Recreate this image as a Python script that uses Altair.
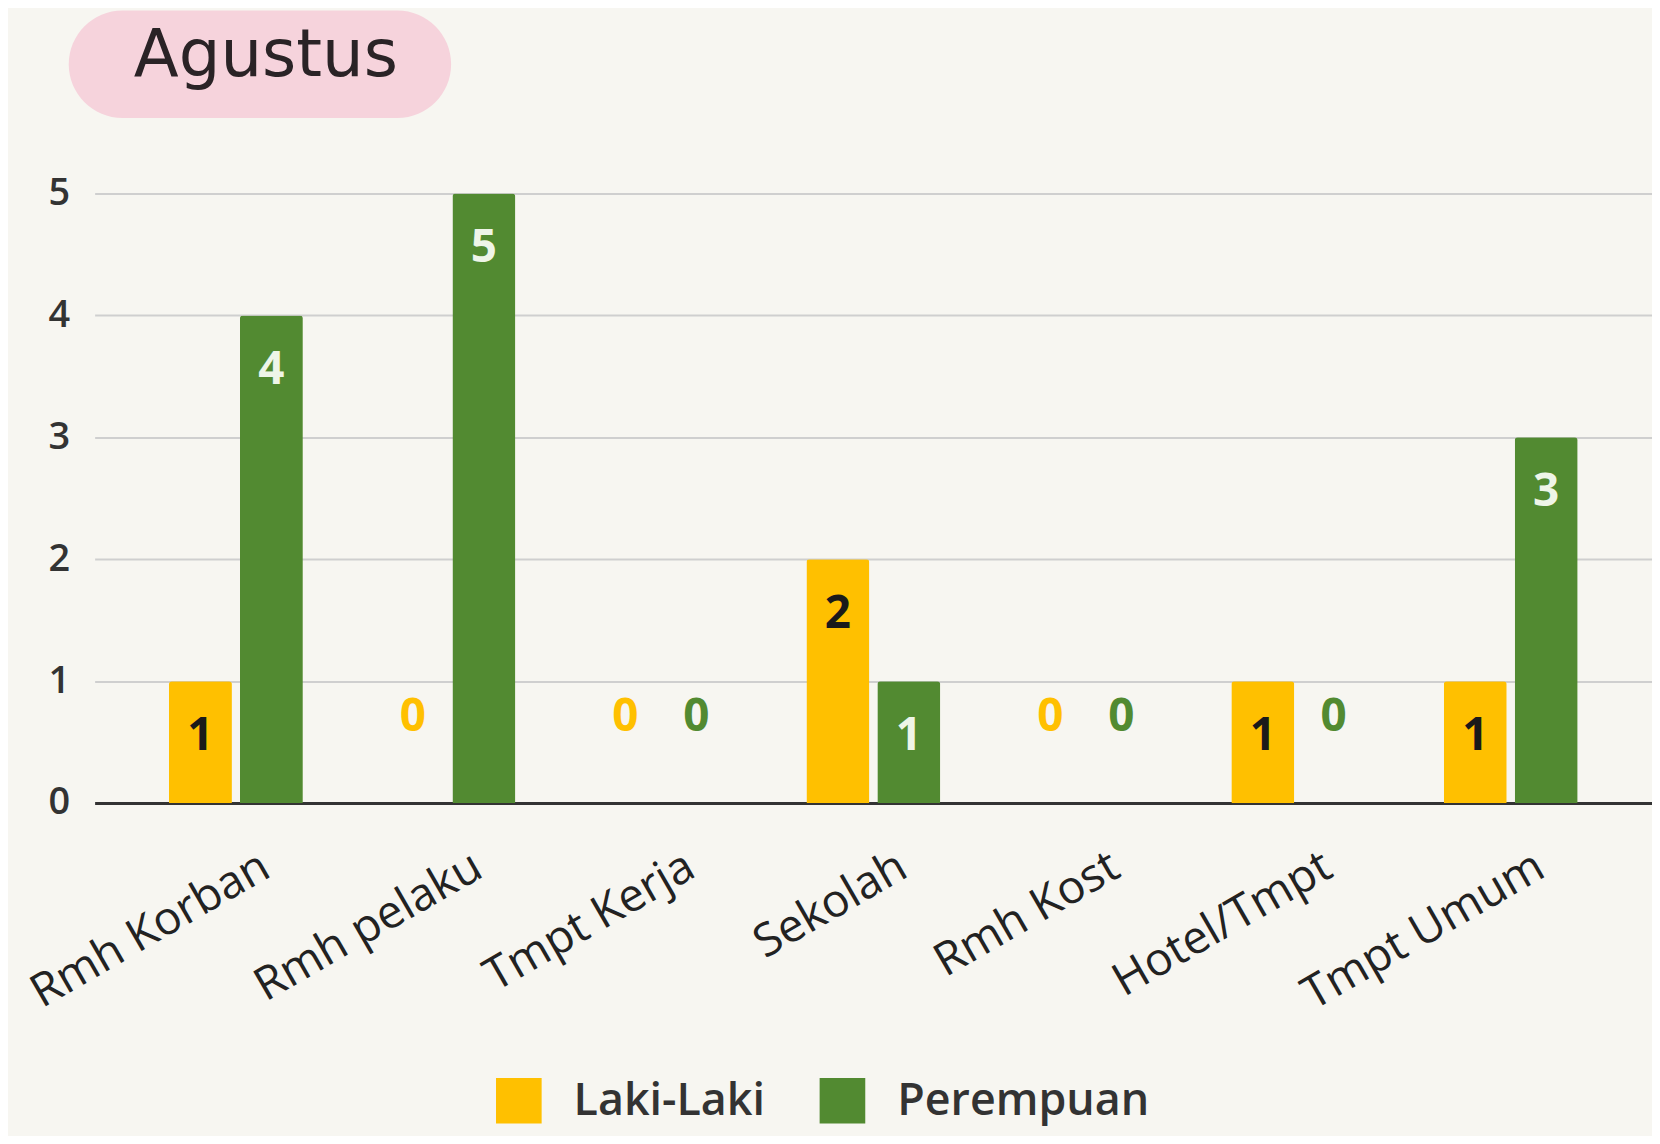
import altair as alt
import pandas as pd

title_text = ["Agustus"]
categories = ["Rmh Korban", "Rmh pelaku", "Tmpt Kerja", "Sekolah", "Rmh Kost", "Hotel/Tmpt", "Tmpt Umum"]
series_names = ["Laki-Laki", "Perempuan"]
laki = [1, 0, 0, 2, 0, 1, 1]
perempuan = [4, 5, 0, 1, 0, 0, 3]
y_ticks = [0, 1, 2, 3, 4, 5]
colors = ["#FFC000", "#528A31"]

rows = []
for i, c in enumerate(categories):
    rows.append({"lokasi": c, "jenis": series_names[0], "nilai": laki[i]})
    rows.append({"lokasi": c, "jenis": series_names[1], "nilai": perempuan[i]})
df = pd.DataFrame(rows)

W, H = 1564, 612
FONT = "Open Sans"

x_enc = alt.X(
    "lokasi:N", sort=categories,
    scale=alt.Scale(paddingInner=0.37, paddingOuter=0.35),
    axis=alt.Axis(title=None, labelAngle=-30, labelAlign="right", labelBaseline="middle",
                  labelFontSize=46, labelFont=FONT, labelColor="#222222", labelPadding=60,
                  labelOffset=30, labelLimit=0, labelOverlap=False,
                  domainColor="#333333", domainWidth=3, ticks=False, grid=False),
)
xo_enc = alt.XOffset("jenis:N", sort=series_names, scale=alt.Scale(paddingInner=0.113))
y_enc = alt.Y(
    "nilai:Q", scale=alt.Scale(domain=[0, 5], nice=False),
    axis=alt.Axis(title=None, values=y_ticks, format="d", labelFontSize=38, labelFont=FONT,
                  labelFontWeight=600, labelColor="#333333", labelPadding=25, domain=False,
                  ticks=False, gridColor="#cfcfcf", gridWidth=2),
)

base = alt.Chart(df)

bars = base.mark_bar(cornerRadiusTopLeft=3, cornerRadiusTopRight=3).encode(
    x=x_enc, xOffset=xo_enc, y=y_enc,
    color=alt.Color("jenis:N", scale=alt.Scale(domain=series_names, range=colors),
                    legend=alt.Legend(title=None, orient="none", legendX=403, legendY=888,
                                      direction="horizontal", symbolType="square", symbolSize=2100,
                                      symbolStrokeWidth=0, labelFontSize=45, labelFont=FONT,
                                      labelFontWeight=600, labelColor="#333333", labelOffset=32,
                                      labelLimit=0, columnPadding=54, padding=0)),
)

inside = base.transform_filter("datum.nilai > 0").mark_text(
    baseline="middle", dy=55, fontSize=46, fontWeight="bold", font=FONT
).encode(
    x=alt.X("lokasi:N", sort=categories), xOffset=alt.XOffset("jenis:N", sort=series_names),
    y=alt.Y("nilai:Q"), text=alt.Text("nilai:Q"),
    color=alt.condition("datum.jenis == 'Laki-Laki'", alt.value("#1a1a1a"), alt.value("#eef5e8")),
)

zeros = base.transform_filter("datum.nilai == 0").mark_text(
    baseline="middle", dy=-86, fontSize=46, fontWeight="bold", font=FONT
).encode(
    x=alt.X("lokasi:N", sort=categories), xOffset=alt.XOffset("jenis:N", sort=series_names),
    y=alt.Y("nilai:Q"), text=alt.Text("nilai:Q"),
    color=alt.condition("datum.jenis == 'Laki-Laki'", alt.value(colors[0]), alt.value(colors[1])),
)

tdf = pd.DataFrame({"judul": title_text})
pill = alt.Chart(tdf).mark_rect(color="#f6d3dc", cornerRadius=54).encode(
    x=alt.value(-26), x2=alt.value(358), y=alt.value(-184), y2=alt.value(-76)
)
title = alt.Chart(tdf).mark_text(font="DejaVu Sans", fontSize=66, color="#2a2326", baseline="middle").encode(
    text="judul:N", x=alt.value(172), y=alt.value(-138)
)

chart = alt.layer(pill, title, bars, inside, zeros).resolve_scale(color="independent").properties(
    width=W, height=H,
    autosize=alt.AutoSizeParams(type="none"),
    padding={"left": 87, "top": 184, "right": 0, "bottom": 332},
    background="#f7f6f1",
).configure_view(stroke=None)

chart.save("out.html", embed_options={"renderer": "svg", "actions": False})
